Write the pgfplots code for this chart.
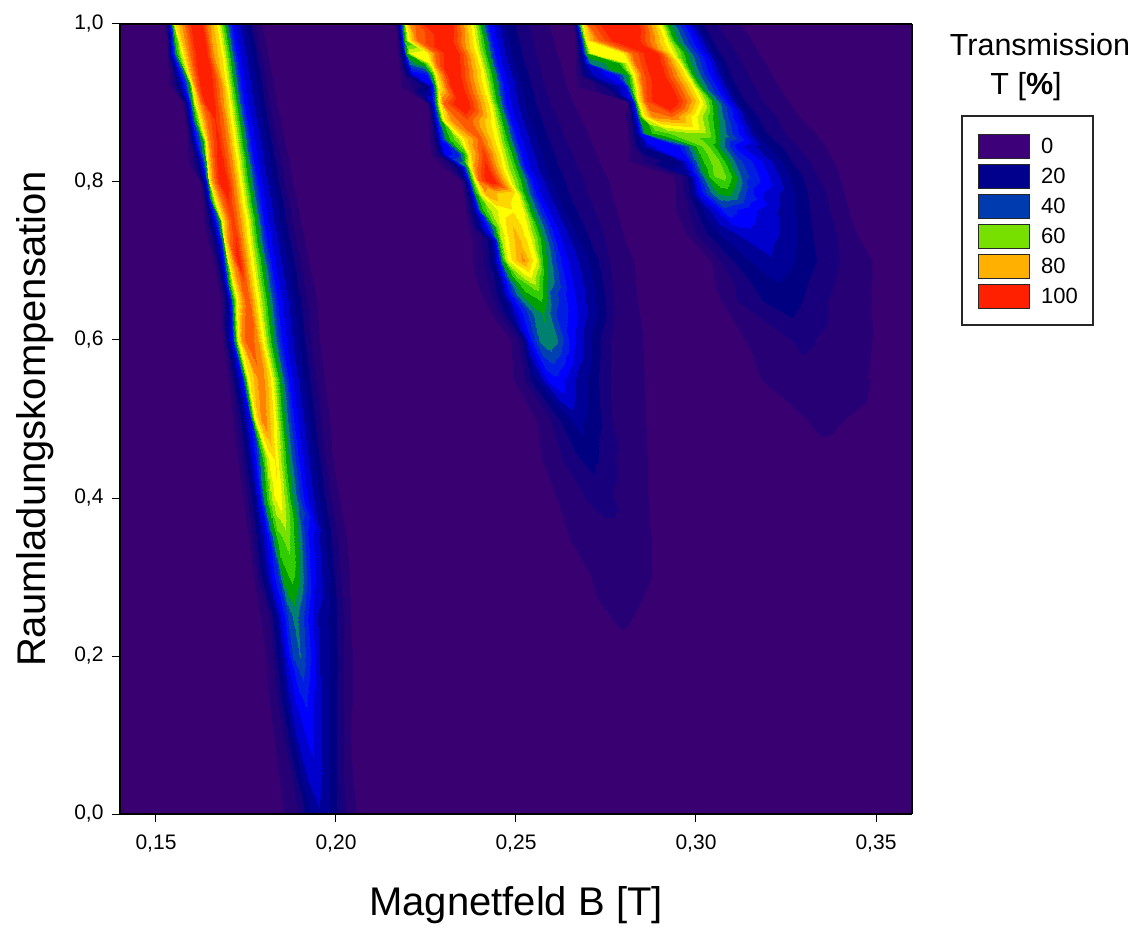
\documentclass[border=0pt]{standalone}
\usepackage{fontspec}
\setmainfont{Liberation Sans}
\usepackage{pgfplots}
\pgfplotsset{compat=1.18}
\definecolor{bgc}{RGB}{56,0,112}
\begin{document}
\begin{tikzpicture}[x=1pt,y=1pt]
\useasboundingbox (-120,-113) rectangle (1020,814);
\begin{axis}[
  at={(0,0)},anchor=south west,scale only axis,width=792pt,height=790pt,
  view={0}{90},
  xmin=0.14,xmax=0.36,ymin=0,ymax=1,zmin=-1,zmax=130,
  xtick={0.15,0.20,0.25,0.30,0.35},ytick={0,0.2,0.4,0.6,0.8,1},ztick=\empty,
  xtick pos=left,ytick pos=left,tick align=outside,
  major tick length=8pt,
  axis line style={line width=1.4pt,black},
  every tick/.style={line width=1pt,black},
  axis background/.style={fill=bgc},
  axis on top,
  xticklabel style={yshift=-9pt,/pgf/number format/.cd,use comma,fixed,fixed zerofill,precision=2,assume math mode=true},
  yticklabel style={xshift=-5pt,/pgf/number format/.cd,use comma,fixed,fixed zerofill,precision=1,assume math mode=true},
  tick label style={font=\fontsize{21}{23}\selectfont},
  xlabel={Magnetfeld B [T]},ylabel={Raumladungskompensation},
  label style={font=\fontsize{40}{44}\selectfont},
  xlabel style={yshift=-28pt},
  ylabel style={yshift=14pt},
  point meta min=0,point meta max=120,
  colormap={trans}{
    rgb255(0pt)=(56,0,112) rgb255(4pt)=(56,0,112)
    rgb255(5pt)=(40,0,118) rgb255(75pt)=(40,0,118)
    rgb255(76pt)=(24,0,124) rgb255(125pt)=(24,0,124)
    rgb255(126pt)=(0,0,128) rgb255(175pt)=(0,0,128)
    rgb255(176pt)=(0,0,150) rgb255(225pt)=(0,0,150)
    rgb255(226pt)=(0,0,205) rgb255(275pt)=(0,0,205)
    rgb255(276pt)=(0,0,255) rgb255(325pt)=(0,0,255)
    rgb255(326pt)=(0,30,225) rgb255(375pt)=(0,30,225)
    rgb255(376pt)=(0,64,176) rgb255(425pt)=(0,64,176)
    rgb255(426pt)=(0,128,110) rgb255(475pt)=(0,128,110)
    rgb255(476pt)=(0,160,0) rgb255(525pt)=(0,160,0)
    rgb255(526pt)=(50,205,0) rgb255(575pt)=(50,205,0)
    rgb255(576pt)=(120,224,0) rgb255(625pt)=(120,224,0)
    rgb255(626pt)=(200,240,0) rgb255(675pt)=(200,240,0)
    rgb255(676pt)=(255,255,0) rgb255(725pt)=(255,255,0)
    rgb255(726pt)=(255,215,0) rgb255(775pt)=(255,215,0)
    rgb255(776pt)=(255,176,0) rgb255(825pt)=(255,176,0)
    rgb255(826pt)=(255,130,0) rgb255(875pt)=(255,130,0)
    rgb255(876pt)=(255,90,0) rgb255(925pt)=(255,90,0)
    rgb255(926pt)=(255,60,0) rgb255(975pt)=(255,60,0)
    rgb255(976pt)=(255,32,0) rgb255(1200pt)=(255,32,0)
  },
]
% Ridge 1: each row holds (B, compensation, T)
\addplot3[surf,shader=interp,mesh/cols=13] coordinates {
(.1525,1,0)(.1534,1,15)(.1539,1,30)(.1544,1,50)(.1550,1,70)(.1576,1,85)(.1618,1,110)(.1645,1,85)(.1673,1,70)(.1692,1,50)(.1710,1,30)(.1756,1,15)(.1794,1,0)
(.1530,.963,0)(.1537,.963,15)(.1544,.963,30)(.1555,.963,50)(.1572,.963,70)(.1588,.963,85)(.1627,.963,110)(.1656,.963,85)(.1685,.963,70)(.1705,.963,50)(.1724,.963,30)(.1771,.963,15)(.1810,.963,0)
(.1534,.925,0)(.1557,.925,15)(.1576,.925,30)(.1592,.925,50)(.1596,.925,70)(.1606,.925,85)(.1636,.925,110)(.1678,.925,85)(.1696,.925,70)(.1718,.925,50)(.1738,.925,30)(.1786,.925,15)(.1827,.925,0)
(.1571,.9,0)(.1583,.9,15)(.1593,.9,30)(.1599,.9,50)(.1608,.9,70)(.1622,.9,85)(.1645,.9,108)(.1682,.9,85)(.1705,.9,70)(.1726,.9,50)(.1747,.9,30)(.1795,.9,15)(.1837,.9,0)
(.1581,.878,0)(.1590,.878,15)(.1596,.878,30)(.1608,.878,50)(.1622,.878,70)(.1636,.878,85)(.1664,.878,98)(.1691,.878,85)(.1711,.878,70)(.1733,.878,50)(.1756,.878,30)(.1804,.878,15)(.1847,.878,0)
(.1585,.85,0)(.1599,.85,15)(.1611,.85,30)(.1631,.85,50)(.1639,.85,70)(.1648,.85,85)(.1673,.85,100)(.1701,.85,85)(.1720,.85,70)(.1743,.85,50)(.1766,.85,30)(.1815,.85,15)(.1859,.85,0)
(.1590,.824,0)(.1618,.824,15)(.1629,.824,30)(.1638,.824,50)(.1641,.824,70)(.1652,.824,85)(.1678,.824,104)(.1708,.824,85)(.1729,.824,70)(.1752,.824,50)(.1776,.824,30)(.1825,.824,15)(.1871,.824,0)
(.1622,.8,0)(.1631,.8,15)(.1639,.8,30)(.1644,.8,50)(.1648,.8,70)(.1659,.8,85)(.1687,.8,108)(.1716,.8,85)(.1736,.8,70)(.1759,.8,50)(.1785,.8,30)(.1834,.8,15)(.1881,.8,0)
(.1627,.777,0)(.1639,.777,15)(.1646,.777,30)(.1652,.777,50)(.1664,.777,70)(.1678,.777,85)(.1701,.777,98)(.1722,.777,85)(.1743,.777,70)(.1768,.777,50)(.1794,.777,30)(.1844,.777,15)(.1892,.777,0)
(.1631,.75,0)(.1650,.75,15)(.1664,.75,30)(.1678,.75,50)(.1684,.75,70)(.1696,.75,85)(.1715,.75,96)(.1731,.75,85)(.1752,.75,70)(.1777,.75,50)(.1804,.75,30)(.1854,.75,15)(.1903,.75,0)
(.1643,.727,0)(.1664,.727,15)(.1678,.727,30)(.1687,.727,50)(.1690,.727,70)(.1701,.727,85)(.1722,.727,98)(.1739,.727,85)(.1759,.727,70)(.1784,.727,50)(.1812,.727,30)(.1863,.727,15)(.1914,.727,0)
(.1659,.7,0)(.1676,.7,15)(.1685,.7,30)(.1694,.7,50)(.1701,.7,70)(.1715,.7,85)(.1729,.7,103)(.1747,.7,85)(.1768,.7,70)(.1794,.7,50)(.1822,.7,30)(.1874,.7,15)(.1925,.7,0)
(.1669,.672,0)(.1685,.672,15)(.1694,.672,30)(.1704,.672,50)(.1715,.672,70)(.1729,.672,85)(.1744,.672,92)(.1756,.672,85)(.1776,.672,70)(.1804,.672,50)(.1832,.672,30)(.1884,.672,15)(.1938,.672,0)
(.1678,.65,0)(.1696,.65,15)(.1706,.65,30)(.1715,.65,50)(.1724,.65,70)(.1743,.65,85)(.1756,.65,92)(.1763,.65,85)(.1783,.65,70)(.1810,.65,50)(.1841,.65,30)(.1894,.65,15)(.1947,.65,0)
(.1682,.6,0)(.1696,.6,15)(.1710,.6,30)(.1719,.6,50)(.1729,.6,70)(.1738,.6,85)(.1756,.6,92)(.1780,.6,85)(.1798,.6,70)(.1821,.6,50)(.1854,.6,30)(.1905,.6,15)(.1956,.6,0)
(.1701,.55,0)(.1719,.55,15)(.1738,.55,30)(.1747,.55,50)(.1756,.55,70)(.1780,.55,82)(.1794,.55,85)(.1803,.55,82)(.1821,.55,70)(.1844,.55,50)(.1872,.55,30)(.1919,.55,15)(.1969,.55,0)
(.1710,.5,0)(.1738,.5,15)(.1761,.5,30)(.1766,.5,50)(.1775,.5,70)(.1789,.5,82)(.1798,.5,87)(.1807,.5,82)(.1831,.5,70)(.1854,.5,50)(.1886,.5,30)(.1932,.5,15)(.1983,.5,0)
(.1724,.45,0)(.1752,.45,15)(.1775,.45,30)(.1794,.45,50)(.1807,.45,65)(.1817,.45,70)(.1831,.45,73)(.1840,.45,68)(.1849,.45,60)(.1863,.45,50)(.1900,.45,30)(.1946,.45,15)(.1993,.45,0)
(.1738,.4,0)(.1770,.4,15)(.1789,.4,30)(.1803,.4,50)(.1817,.4,60)(.1831,.4,68)(.1840,.4,72)(.1854,.4,65)(.1865,.4,58)(.1874,.4,50)(.1914,.4,30)(.1960,.4,15)(.2011,.4,0)
(.1756,.35,0)(.1770,.35,8)(.1784,.35,15)(.1812,.35,30)(.1826,.35,45)(.1840,.35,55)(.1863,.35,60)(.1877,.35,55)(.1900,.35,45)(.1928,.35,30)(.1979,.35,15)(.2002,.35,8)(.2030,.35,0)
(.1770,.3,0)(.1784,.3,8)(.1798,.3,15)(.1826,.3,30)(.1844,.3,40)(.1854,.3,50)(.1877,.3,54)(.1895,.3,50)(.1914,.3,40)(.1932,.3,30)(.1988,.3,15)(.2011,.3,8)(.2039,.3,0)
(.1789,.25,0)(.1817,.25,8)(.1828,.25,15)(.1840,.25,22)(.1854,.25,30)(.1867,.25,38)(.1886,.25,45)(.1909,.25,38)(.1928,.25,30)(.1951,.25,22)(.1992,.25,15)(.2020,.25,8)(.2043,.25,0)
(.1803,.2,0)(.1826,.2,8)(.1840,.2,15)(.1854,.2,22)(.1867,.2,30)(.1881,.2,38)(.1900,.2,43)(.1914,.2,38)(.1937,.2,30)(.1955,.2,22)(.1997,.2,15)(.2020,.2,8)(.2048,.2,0)
(.1812,.15,0)(.1835,.15,8)(.1854,.15,15)(.1867,.15,22)(.1886,.15,28)(.1900,.15,32)(.1914,.15,34)(.1923,.15,32)(.1935,.15,28)(.1957,.15,22)(.1992,.15,15)(.2020,.15,8)(.2048,.15,0)
(.1826,.1,0)(.1854,.1,8)(.1872,.1,15)(.1886,.1,22)(.1905,.1,26)(.1918,.1,28)(.1928,.1,30)(.1935,.1,28)(.1942,.1,26)(.1960,.1,22)(.1992,.1,15)(.2020,.1,8)(.2043,.1,0)
(.1840,.05,0)(.1877,.05,8)(.1895,.05,15)(.1914,.05,22)(.1926,.05,24)(.1935,.05,25)(.1942,.05,26)(.1948,.05,25)(.1954,.05,24)(.1963,.05,22)(.1991,.05,15)(.2020,.05,8)(.2048,.05,0)
(.1854,0,0)(.1895,0,8)(.1923,0,15)(.1937,0,19)(.1944,0,20)(.1951,0,21)(.1955,0,22)(.1960,0,21)(.1967,0,20)(.1974,0,19)(.1988,0,15)(.2025,0,8)(.2057,0,0)
};
% Ridge 2
\addplot3[surf,shader=interp,mesh/cols=13] coordinates {
(.2164,1,0)(.2173,1,15)(.2179,1,30)(.2185,1,50)(.2191,1,70)(.2205,1,85)(.2293,1,115)(.2377,1,70)(.2404,1,50)(.2428,1,30)(.2478,1,15)(.2548,1,6)(.2594,1,0)
(.2168,.98,0)(.2178,.98,15)(.2183,.98,30)(.2189,.98,50)(.2201,.98,70)(.2224,.98,88)(.2307,.98,105)(.2383,.98,70)(.2414,.98,50)(.2437,.98,30)(.2488,.98,15)(.2557,.98,6)(.2608,.98,0)
(.2170,.963,0)(.2185,.963,20)(.2194,.963,50)(.2205,.963,68)(.2252,.963,72)(.2275,.963,88)(.2321,.963,108)(.2391,.963,70)(.2420,.963,50)(.2444,.963,30)(.2497,.963,15)(.2566,.963,6)(.2617,.963,0)
(.2173,.95,0)(.2191,.95,20)(.2205,.95,45)(.2242,.95,52)(.2261,.95,70)(.2279,.95,88)(.2321,.95,108)(.2400,.95,70)(.2428,.95,50)(.2451,.95,30)(.2506,.95,15)(.2576,.95,6)(.2627,.95,0)
(.2178,.935,0)(.2194,.935,12)(.2210,.935,25)(.2252,.935,32)(.2266,.935,52)(.2281,.935,75)(.2321,.935,108)(.2407,.935,70)(.2435,.935,50)(.2460,.935,30)(.2516,.935,15)(.2583,.935,6)(.2636,.935,0)
(.2179,.921,0)(.2210,.921,8)(.2256,.921,15)(.2266,.921,30)(.2275,.921,50)(.2284,.921,70)(.2330,.921,108)(.2414,.921,70)(.2441,.921,50)(.2469,.921,30)(.2525,.921,15)(.2590,.921,6)(.2645,.921,0)
(.2252,.9,0)(.2261,.9,15)(.2270,.9,30)(.2279,.9,50)(.2287,.9,70)(.2298,.9,88)(.2349,.9,108)(.2428,.9,70)(.2451,.9,50)(.2474,.9,30)(.2534,.9,15)(.2608,.9,6)(.2664,.9,0)
(.2256,.878,0)(.2270,.878,15)(.2279,.878,30)(.2289,.878,50)(.2298,.878,70)(.2321,.878,85)(.2363,.878,92)(.2435,.878,70)(.2463,.878,50)(.2488,.878,30)(.2548,.878,15)(.2631,.878,6)(.2687,.878,0)
(.2259,.855,0)(.2279,.855,15)(.2289,.855,30)(.2307,.855,50)(.2340,.855,62)(.2358,.855,75)(.2400,.855,90)(.2446,.855,70)(.2478,.855,50)(.2506,.855,30)(.2566,.855,15)(.2654,.855,6)(.2710,.855,0)
(.2261,.836,0)(.2287,.836,12)(.2303,.836,30)(.2340,.836,35)(.2358,.836,55)(.2372,.836,75)(.2411,.836,95)(.2457,.836,70)(.2491,.836,50)(.2520,.836,30)(.2580,.836,15)(.2673,.836,6)(.2728,.836,0)
(.2298,.819,0)(.2340,.819,15)(.2353,.819,30)(.2363,.819,50)(.2372,.819,70)(.2386,.819,85)(.2416,.819,100)(.2466,.819,70)(.2502,.819,50)(.2529,.819,30)(.2594,.819,15)(.2687,.819,6)(.2742,.819,0)
(.2344,.803,0)(.2358,.803,15)(.2367,.803,30)(.2374,.803,50)(.2386,.803,70)(.2395,.803,88)(.2428,.803,106)(.2478,.803,72)(.2516,.803,50)(.2548,.803,30)(.2608,.803,15)(.2705,.803,6)(.2761,.803,0)
(.2353,.786,0)(.2367,.786,15)(.2377,.786,30)(.2386,.786,50)(.2400,.786,68)(.2418,.786,82)(.2441,.786,78)(.2500,.786,72)(.2525,.786,50)(.2557,.786,30)(.2622,.786,15)(.2715,.786,6)(.2770,.786,0)
(.2358,.765,0)(.2377,.765,15)(.2391,.765,30)(.2404,.765,50)(.2428,.765,62)(.2451,.765,68)(.2492,.765,72)(.2520,.765,68)(.2543,.765,50)(.2580,.765,30)(.2645,.765,15)(.2733,.765,6)(.2784,.765,0)
(.2367,.743,0)(.2391,.743,15)(.2418,.743,30)(.2437,.743,45)(.2446,.743,60)(.2465,.743,70)(.2492,.743,78)(.2529,.743,70)(.2562,.743,50)(.2602,.743,30)(.2668,.743,15)(.2752,.743,6)(.2796,.743,0)
(.2377,.727,0)(.2428,.727,15)(.2441,.727,30)(.2451,.727,50)(.2460,.727,65)(.2478,.727,72)(.2502,.727,80)(.2539,.727,70)(.2571,.727,50)(.2613,.727,30)(.2687,.727,15)(.2761,.727,6)(.2805,.727,0)
(.2377,.701,0)(.2432,.701,15)(.2451,.701,30)(.2460,.701,50)(.2472,.701,65)(.2492,.701,75)(.2520,.701,84)(.2553,.701,70)(.2578,.701,50)(.2631,.701,30)(.2715,.701,15)(.2770,.701,6)(.2830,.701,0)
(.2386,.68,0)(.2446,.68,15)(.2465,.68,30)(.2478,.68,45)(.2502,.68,58)(.2529,.68,66)(.2543,.68,68)(.2557,.68,60)(.2580,.68,50)(.2641,.68,30)(.2724,.68,15)(.2775,.68,6)(.2835,.68,0)
(.2400,.659,0)(.2455,.659,15)(.2478,.659,30)(.2502,.659,45)(.2529,.659,52)(.2557,.659,55)(.2566,.659,56)(.2576,.659,52)(.2594,.659,42)(.2650,.659,30)(.2733,.659,15)(.2779,.659,6)(.2840,.659,0)
(.2428,.634,0)(.2474,.634,15)(.2511,.634,30)(.2539,.634,40)(.2557,.634,46)(.2566,.634,47)(.2576,.634,48)(.2590,.634,44)(.2608,.634,38)(.2657,.634,30)(.2738,.634,15)(.2781,.634,6)(.2846,.634,0)
(.2483,.6,0)(.2516,.6,12)(.2534,.6,28)(.2553,.6,38)(.2567,.6,44)(.2581,.6,46)(.2590,.6,47)(.2611,.6,44)(.2630,.6,38)(.2655,.6,30)(.2719,.6,15)(.2770,.6,6)(.2858,.6,0)
(.2493,.55,0)(.2525,.55,8)(.2548,.55,15)(.2571,.55,22)(.2585,.55,28)(.2608,.55,31)(.2618,.55,31)(.2631,.55,28)(.2650,.55,25)(.2678,.55,20)(.2719,.55,14)(.2766,.55,7)(.2863,.55,0)
(.2553,.5,0)(.2585,.5,6)(.2618,.5,12)(.2636,.5,15)(.2652,.5,18)(.2661,.5,19)(.2669,.5,20)(.2687,.5,18)(.2701,.5,17)(.2713,.5,15)(.2724,.5,14)(.2770,.5,7)(.2868,.5,0)
(.2567,.45,0)(.2608,.45,5)(.2645,.45,10)(.2669,.45,12)(.2687,.45,13)(.2698,.45,14)(.2706,.45,14)(.2717,.45,13)(.2724,.45,13)(.2733,.45,12)(.2747,.45,10)(.2807,.45,5)(.2872,.45,0)
(.2608,.4,0)(.2645,.4,4)(.2696,.4,8)(.2719,.4,9)(.2731,.4,10)(.2738,.4,10)(.2743,.4,10)(.2752,.4,9)(.2759,.4,9)(.2766,.4,8)(.2775,.4,7)(.2835,.4,4)(.2872,.4,0)
(.2645,.35,0)(.2678,.35,4)(.2715,.35,4)(.2743,.35,5)(.2761,.35,5)(.2780,.35,5)(.2798,.35,5)(.2817,.35,5)(.2831,.35,5)(.2840,.35,5)(.2849,.35,5)(.2868,.35,3)(.2877,.35,0)
(.2706,.3,0)(.2733,.3,4)(.2756,.3,4)(.2770,.3,5)(.2784,.3,5)(.2794,.3,5)(.2803,.3,5)(.2812,.3,5)(.2821,.3,5)(.2831,.3,4)(.2840,.3,4)(.2868,.3,3)(.2877,.3,0)
(.2729,.27,0)(.2738,.27,3)(.2747,.27,4)(.2756,.27,4)(.2766,.27,4)(.2780,.27,5)(.2794,.27,5)(.2803,.27,5)(.2812,.27,4)(.2821,.27,4)(.2831,.27,3)(.2840,.27,2)(.2849,.27,0)
(.2793,.23,0)(.2794,.23,0)(.2795,.23,0)(.2796,.23,0)(.2797,.23,0)(.2798,.23,0)(.2799,.23,0)(.2800,.23,0)(.2801,.23,0)(.2802,.23,0)(.2803,.23,0)(.2804,.23,0)(.2805,.23,0)
};
% Ridge 3
\addplot3[surf,shader=interp,mesh/cols=13] coordinates {
(.2659,1,0)(.2668,1,20)(.2679,1,55)(.2689,1,75)(.2701,1,88)(.2742,1,100)(.2807,1,112)(.2900,1,70)(.2923,1,50)(.3003,1,17.5)(.3020,1,12.5)(.3057,1,7.5)(.3127,1,0)
(.2661,.98,0)(.2675,.98,20)(.2685,.98,50)(.2694,.98,72)(.2719,.98,85)(.2761,.98,97)(.2818,.98,108)(.2918,.98,70)(.2941,.98,50)(.3031,.98,17.5)(.3048,.98,12.5)(.3090,.98,7.5)(.3159,.98,0)
(.2664,.963,0)(.2681,.963,20)(.2694,.963,50)(.2705,.963,68)(.2798,.963,72)(.2821,.963,88)(.2881,.963,106)(.2932,.963,70)(.2969,.963,50)(.3050,.963,17.5)(.3068,.963,12.5)(.3113,.963,7.5)(.3178,.963,0)
(.2664,.95,0)(.2689,.95,22)(.2705,.95,45)(.2784,.95,50)(.2812,.95,70)(.2830,.95,88)(.2886,.95,106)(.2955,.95,70)(.2978,.95,50)(.3066,.95,17.5)(.3085,.95,12.5)(.3131,.95,7.5)(.3196,.95,0)
(.2664,.935,0)(.2698,.935,20)(.2779,.935,33)(.2812,.935,50)(.2828,.935,72)(.2849,.935,90)(.2895,.935,106)(.2974,.935,70)(.2992,.935,50)(.3078,.935,17.5)(.3096,.935,12.5)(.3145,.935,7.5)(.3215,.935,0)
(.2668,.921,0)(.2742,.921,11)(.2803,.921,28)(.2818,.921,50)(.2833,.921,70)(.2853,.921,90)(.2909,.921,108)(.2988,.921,72)(.3011,.921,50)(.3094,.921,17.5)(.3113,.921,12.5)(.3164,.921,7.5)(.3233,.921,0)
(.2807,.902,0)(.2812,.902,15)(.2826,.902,30)(.2830,.902,50)(.2840,.902,70)(.2861,.902,92)(.2918,.902,112)(.3011,.902,72)(.3048,.902,50)(.3113,.902,17.5)(.3136,.902,12.5)(.3187,.902,7.5)(.3261,.902,0)
(.2803,.883,0)(.2821,.883,15)(.2833,.883,30)(.2842,.883,50)(.2853,.883,70)(.2877,.883,85)(.2932,.883,88)(.3011,.883,65)(.3053,.883,50)(.3145,.883,17.5)(.3173,.883,12.5)(.3224,.883,7.5)(.3289,.883,0)
(.2807,.862,0)(.2830,.862,15)(.2844,.862,30)(.2858,.862,50)(.2895,.862,55)(.2928,.862,58)(.2983,.862,62)(.3029,.862,62)(.3057,.862,50)(.3168,.862,17.5)(.3196,.862,12.5)(.3247,.862,7.5)(.3335,.862,0)
(.2812,.845,0)(.2840,.845,15)(.2872,.845,27)(.2946,.845,30)(.2978,.845,42)(.3002,.845,55)(.3029,.845,60)(.3057,.845,50)(.3113,.845,30)(.3201,.845,17.5)(.3238,.845,12.5)(.3284,.845,7.5)(.3363,.845,0)
(.2812,.826,0)(.2863,.826,10)(.2946,.826,15)(.2978,.826,30)(.3002,.826,45)(.3029,.826,56)(.3057,.826,60)(.3085,.826,50)(.3113,.826,40)(.3238,.826,17.5)(.3266,.826,12.5)(.3316,.826,7.5)(.3386,.826,0)
(.2937,.807,0)(.2974,.807,12)(.2992,.807,25)(.3016,.807,42)(.3029,.807,50)(.3053,.807,58)(.3076,.807,60)(.3099,.807,52)(.3131,.807,40)(.3261,.807,17.5)(.3298,.807,12.5)(.3340,.807,7.5)(.3404,.807,0)
(.2941,.786,0)(.2978,.786,12)(.3011,.786,30)(.3034,.786,40)(.3062,.786,48)(.3076,.786,50)(.3090,.786,50)(.3136,.786,38)(.3168,.786,30)(.3275,.786,17.5)(.3312,.786,12.5)(.3363,.786,7.5)(.3418,.786,0)
(.2941,.765,0)(.2988,.765,10)(.3029,.765,20)(.3066,.765,30)(.3080,.765,36)(.3099,.765,34)(.3127,.765,31)(.3164,.765,28)(.3228,.765,22.5)(.3279,.765,17.5)(.3316,.765,12.5)(.3372,.765,7.5)(.3428,.765,0)
(.2969,.735,0)(.2997,.735,7.5)(.3029,.735,12.5)(.3062,.735,17.5)(.3108,.735,22.5)(.3141,.735,25)(.3164,.735,26)(.3191,.735,25)(.3233,.735,22.5)(.3284,.735,17.5)(.3326,.735,12.5)(.3391,.735,7.5)(.3451,.735,0)
(.3038,.7,0)(.3066,.7,7.5)(.3103,.7,12.5)(.3149,.7,17.5)(.3186,.7,20)(.3205,.7,21)(.3219,.7,22)(.3228,.7,21)(.3237,.7,20)(.3274,.7,17.5)(.3335,.7,12.5)(.3399,.7,7.5)(.3494,.7,0)
(.3048,.672,0)(.3103,.672,7.5)(.3154,.672,12.5)(.3186,.672,15)(.3205,.672,16.5)(.3219,.672,17)(.3228,.672,17.5)(.3237,.672,17)(.3251,.672,16.5)(.3279,.672,15)(.3311,.672,12.5)(.3386,.672,7.5)(.3494,.672,0)
(.3066,.65,0)(.3112,.65,7.5)(.3182,.65,12.5)(.3205,.65,13.5)(.3224,.65,14)(.3237,.65,14.3)(.3247,.65,14.5)(.3256,.65,14.3)(.3265,.65,14)(.3279,.65,13.5)(.3298,.65,12.5)(.3367,.65,7.5)(.3494,.65,0)
(.3131,.6,0)(.3177,.6,4)(.3265,.6,7.5)(.3279,.6,8.5)(.3286,.6,9)(.3293,.6,9.5)(.3299,.6,10)(.3305,.6,9.5)(.3311,.6,9)(.3319,.6,8.5)(.3330,.6,7.5)(.3418,.6,4)(.3497,.6,0)
(.3154,.579,0)(.3196,.579,3)(.3251,.579,5)(.3274,.579,6)(.3293,.579,7)(.3298,.579,7.3)(.3299,.579,7.5)(.3301,.579,7.3)(.3305,.579,7)(.3325,.579,6)(.3353,.579,5)(.3427,.579,3)(.3494,.579,0)
(.3177,.55,0)(.3196,.55,2)(.3233,.55,3)(.3270,.55,4)(.3298,.55,4)(.3325,.55,4)(.3353,.55,4)(.3381,.55,4)(.3409,.55,4)(.3436,.55,4)(.3460,.55,3)(.3474,.55,2)(.3487,.55,0)
(.3256,.52,0)(.3270,.52,2)(.3288,.52,3)(.3307,.52,4)(.3325,.52,4)(.3344,.52,4)(.3362,.52,4)(.3381,.52,4)(.3399,.52,4)(.3418,.52,4)(.3441,.52,3)(.3460,.52,2)(.3474,.52,0)
(.3302,.5,0)(.3311,.5,2)(.3325,.5,3)(.3339,.5,4)(.3353,.5,4)(.3367,.5,4)(.3376,.5,4)(.3386,.5,4)(.3395,.5,4)(.3404,.5,3)(.3409,.5,3)(.3413,.5,2)(.3418,.5,0)
(.3349,.475,0)(.3350,.475,0)(.3351,.475,0)(.3352,.475,0)(.3353,.475,0)(.3354,.475,0)(.3355,.475,0)(.3356,.475,0)(.3357,.475,0)(.3358,.475,0)(.3359,.475,0)(.3360,.475,0)(.3361,.475,0)
};
\end{axis}
% Legend
\node[font=\fontsize{30.5}{34}\selectfont] at (920,769) {Transmission};
\node[font=\fontsize{30.5}{34}\selectfont] at (906,727) {T [{\bfseries\%}]};
\draw[line width=1.2pt,draw=black!85] (842,698) rectangle (973,489);
\foreach \yt/\lab/\r/\g/\b in {680/0/61/0/120,650/20/0/0/140,620/40/0/60/176,590/60/120/224/0,560/80/255/176/0,530/100/255/32/0}{
  \definecolor{sw}{RGB}{\r,\g,\b}
  \draw[fill=sw,line width=0.8pt,draw=black!85] (858,\yt) rectangle (909,\yt-24);
  \node[anchor=west,inner sep=0pt,font=\fontsize{22}{24}\selectfont] at (921,\yt-12) {\lab};
}
\end{tikzpicture}
\end{document}
